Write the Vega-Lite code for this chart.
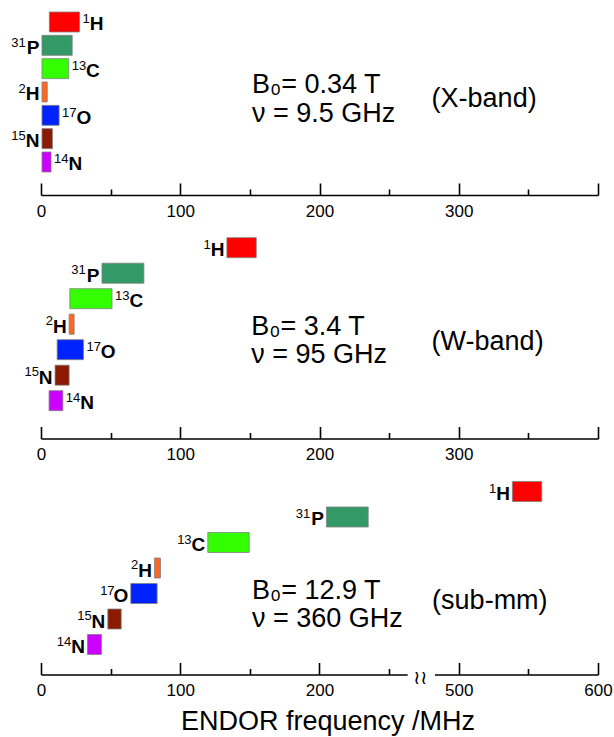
{
  "$schema": "https://vega.github.io/schema/vega-lite/v6.json",
  "background": "white",
  "padding": {"left": 11, "top": 10, "right": 2, "bottom": 4},
  "bounds": "flush",
  "spacing": 40,
  "config": {
    "view": {"stroke": null},
    "text": {"font": "Liberation Sans", "color": "black"},
    "axis": {
      "grid": false,
      "domainColor": "black",
      "domainWidth": 1.6,
      "tickColor": "black",
      "tickWidth": 1.6,
      "labelColor": "black",
      "labelFlush": false,
      "labelOverlap": false,
      "labelFont": "Liberation Sans",
      "labelFontSize": 17,
      "labelBaseline": "top",
      "titleFont": "Liberation Sans",
      "titleFontSize": 27,
      "titleFontWeight": "normal",
      "titleColor": "black"
    }
  },
  "datasets": {
    "nuclei": [
      {"band": "X", "nuc": "1H", "mass": "1", "el": "H", "lo": 6.0, "hi": 27.7},
      {"band": "X", "nuc": "31P", "mass": "31", "el": "P", "lo": 0.7, "hi": 22.4},
      {"band": "X", "nuc": "13C", "mass": "13", "el": "C", "lo": 0.7, "hi": 19.9},
      {"band": "X", "nuc": "2H", "mass": "2", "el": "H", "lo": 0.7, "hi": 4.5},
      {"band": "X", "nuc": "17O", "mass": "17", "el": "O", "lo": 0.7, "hi": 13.0},
      {"band": "X", "nuc": "15N", "mass": "15", "el": "N", "lo": 0.7, "hi": 8.2},
      {"band": "X", "nuc": "14N", "mass": "14", "el": "N", "lo": 0.7, "hi": 7.2},
      {"band": "W", "nuc": "1H", "mass": "1", "el": "H", "lo": 133.5, "hi": 154.6},
      {"band": "W", "nuc": "31P", "mass": "31", "el": "P", "lo": 43.8, "hi": 73.9},
      {"band": "W", "nuc": "13C", "mass": "13", "el": "C", "lo": 20.7, "hi": 51.0},
      {"band": "W", "nuc": "2H", "mass": "2", "el": "H", "lo": 20.2, "hi": 23.8},
      {"band": "W", "nuc": "17O", "mass": "17", "el": "O", "lo": 11.6, "hi": 30.5},
      {"band": "W", "nuc": "15N", "mass": "15", "el": "N", "lo": 10.1, "hi": 20.2},
      {"band": "W", "nuc": "14N", "mass": "14", "el": "N", "lo": 5.8, "hi": 15.7},
      {"band": "S", "nuc": "1H", "mass": "1", "el": "H", "lo": 538.5, "hi": 559.6},
      {"band": "S", "nuc": "31P", "mass": "31", "el": "P", "lo": 205.0, "hi": 235.0},
      {"band": "S", "nuc": "13C", "mass": "13", "el": "C", "lo": 119.8, "hi": 149.5},
      {"band": "S", "nuc": "2H", "mass": "2", "el": "H", "lo": 81.5, "hi": 85.8},
      {"band": "S", "nuc": "17O", "mass": "17", "el": "O", "lo": 64.5, "hi": 83.4},
      {"band": "S", "nuc": "15N", "mass": "15", "el": "N", "lo": 48.0, "hi": 57.6},
      {"band": "S", "nuc": "14N", "mass": "14", "el": "N", "lo": 33.4, "hi": 43.4}
    ]
  },
  "vconcat": [
    {
      "width": 557,
      "height": 185,
      "data": {"name": "nuclei"},
      "transform": [{"filter": "datum.band === 'X'"}],
      "encoding": {
        "y": {"field": "nuc", "type": "nominal", "sort": ["1H","31P","13C","2H","17O","15N","14N"], "axis": null,
              "scale": {"paddingInner": 0.143, "paddingOuter": 0.536, "align": 0.08}}
      },
      "layer": [
        {
          "mark": {"type": "rect", "stroke": "#808080", "strokeWidth": 0.8},
          "encoding": {
            "x": {"field": "lo", "type": "quantitative", "scale": {"domain": [0, 400], "nice": false, "zero": false},
                  "axis": {
                    "title": null,
                    "values": [0,50,100,150,200,250,300,350,400],
                    "tickSize": {"condition": {"test": "datum.value % 100 === 0", "value": -12}, "value": -6},
                    "labelExpr": "datum.value % 100 === 0 && datum.value < 400 ? datum.label : ''",
                    "labelPadding": 20
                  }},
            "x2": {"field": "hi"},
            "color": {"field": "nuc", "type": "nominal", "legend": null,
                      "scale": {"domain": ["1H","31P","13C","2H","17O","15N","14N"],
                                "range": ["#ff0000","#339966","#33ff00","#ff6622","#0022ff","#8b1a00","#cc00ff"]}}
          }
        },
        {
          "transform": [{"filter": "indexof(['1H','13C','17O','14N'], datum.nuc) >= 0"}],
          "mark": {"type": "text", "align": "left", "baseline": "alphabetic", "dx": 3, "dy": 1.2, "fontSize": 13},
          "encoding": {"x": {"field": "hi", "type": "quantitative"}, "text": {"field": "mass"}}
        },
        {
          "transform": [{"filter": "indexof(['1H','13C','17O','14N'], datum.nuc) >= 0 && length(datum.mass) === 1"}],
          "mark": {"type": "text", "align": "left", "baseline": "alphabetic", "dx": 10.2, "dy": 8.5, "fontSize": 19, "fontWeight": "bold"},
          "encoding": {"x": {"field": "hi", "type": "quantitative"}, "text": {"field": "el"}}
        },
        {
          "transform": [{"filter": "indexof(['1H','13C','17O','14N'], datum.nuc) >= 0 && length(datum.mass) === 2"}],
          "mark": {"type": "text", "align": "left", "baseline": "alphabetic", "dx": 17.4, "dy": 8.5, "fontSize": 19, "fontWeight": "bold"},
          "encoding": {"x": {"field": "hi", "type": "quantitative"}, "text": {"field": "el"}}
        },
        {
          "transform": [{"filter": "indexof(['31P','2H','15N'], datum.nuc) >= 0"}],
          "mark": {"type": "text", "align": "right", "baseline": "alphabetic", "dx": -2.5, "dy": 8.5, "fontSize": 19, "fontWeight": "bold"},
          "encoding": {"x": {"field": "lo", "type": "quantitative"}, "text": {"field": "el"}}
        },
        {
          "transform": [{"filter": "indexof(['31P','2H','15N'], datum.nuc) >= 0"}],
          "mark": {"type": "text", "align": "right", "baseline": "alphabetic", "dx": -16.2, "dy": 1.2, "fontSize": 13},
          "encoding": {"x": {"field": "lo", "type": "quantitative"}, "text": {"field": "mass"}}
        },
        {
          "data": {"values": [{}]},
          "mark": {"type": "text", "align": "left", "baseline": "alphabetic", "dy": 1.3, "fontSize": 27,
                   "lineBreak": "\n", "lineHeight": 28.4, "text": "B₀= 0.34 T\nν = 9.5 GHz"},
          "encoding": {"x": {"datum": 151.5}, "y": {"datum": "2H"}}
        },
        {
          "data": {"values": [{}]},
          "mark": {"type": "text", "align": "left", "baseline": "alphabetic", "dy": 15, "fontSize": 27, "text": "(X-band)"},
          "encoding": {"x": {"datum": 280.5}, "y": {"datum": "2H"}}
        }
      ]
    },
    {
      "width": 557,
      "height": 203.5,
      "data": {"name": "nuclei"},
      "transform": [{"filter": "datum.band === 'W'"}],
      "encoding": {
        "y": {"field": "nuc", "type": "nominal", "sort": ["1H","31P","13C","2H","17O","15N","14N"], "axis": null,
              "scale": {"paddingInner": 0.2157, "paddingOuter": 0.598, "align": 0.0885}}
      },
      "layer": [
        {
          "mark": {"type": "rect", "stroke": "#808080", "strokeWidth": 0.8},
          "encoding": {
            "x": {"field": "lo", "type": "quantitative", "scale": {"domain": [0, 400], "nice": false, "zero": false},
                  "axis": {
                    "title": null,
                    "values": [0,50,100,150,200,250,300,350,400],
                    "tickSize": {"condition": {"test": "datum.value % 100 === 0", "value": -12}, "value": -6},
                    "labelExpr": "datum.value % 100 === 0 && datum.value < 400 ? datum.label : ''",
                    "labelPadding": 20
                  }},
            "x2": {"field": "hi"},
            "color": {"field": "nuc", "type": "nominal", "legend": null,
                      "scale": {"domain": ["1H","31P","13C","2H","17O","15N","14N"],
                                "range": ["#ff0000","#339966","#33ff00","#ff6622","#0022ff","#8b1a00","#cc00ff"]}}
          }
        },
        {
          "transform": [{"filter": "indexof(['13C','17O','14N'], datum.nuc) >= 0"}],
          "mark": {"type": "text", "align": "left", "baseline": "alphabetic", "dx": 3, "dy": 1.2, "fontSize": 13},
          "encoding": {"x": {"field": "hi", "type": "quantitative"}, "text": {"field": "mass"}}
        },
        {
          "transform": [{"filter": "indexof(['13C','17O','14N'], datum.nuc) >= 0"}],
          "mark": {"type": "text", "align": "left", "baseline": "alphabetic", "dx": 17.4, "dy": 8.5, "fontSize": 19, "fontWeight": "bold"},
          "encoding": {"x": {"field": "hi", "type": "quantitative"}, "text": {"field": "el"}}
        },
        {
          "transform": [{"filter": "indexof(['1H','31P','2H','15N'], datum.nuc) >= 0"}],
          "mark": {"type": "text", "align": "right", "baseline": "alphabetic", "dx": -2.5, "dy": 8.5, "fontSize": 19, "fontWeight": "bold"},
          "encoding": {"x": {"field": "lo", "type": "quantitative"}, "text": {"field": "el"}}
        },
        {
          "transform": [{"filter": "indexof(['1H','31P','2H','15N'], datum.nuc) >= 0"}],
          "mark": {"type": "text", "align": "right", "baseline": "alphabetic", "dx": -16.2, "dy": 1.2, "fontSize": 13},
          "encoding": {"x": {"field": "lo", "type": "quantitative"}, "text": {"field": "mass"}}
        },
        {
          "data": {"values": [{}]},
          "mark": {"type": "text", "align": "left", "baseline": "alphabetic", "dy": 10.8, "fontSize": 27,
                   "lineBreak": "\n", "lineHeight": 28.4, "text": "B₀= 3.4 T\nν = 95 GHz"},
          "encoding": {"x": {"datum": 151.0}, "y": {"datum": "2H"}}
        },
        {
          "data": {"values": [{}]},
          "mark": {"type": "text", "align": "left", "baseline": "alphabetic", "dy": 25.8, "fontSize": 27, "text": "(W-band)"},
          "encoding": {"x": {"datum": 280.5}, "y": {"datum": "2H"}}
        }
      ]
    },
    {
      "width": 557,
      "height": 195.5,
      "data": {"name": "nuclei"},
      "transform": [{"filter": "datum.band === 'S'"}],
      "encoding": {
        "y": {"field": "nuc", "type": "nominal", "sort": ["1H","31P","13C","2H","17O","15N","14N"], "axis": null,
              "scale": {"paddingInner": 0.2157, "paddingOuter": 0.441, "align": 0.111}}
      },
      "layer": [
        {
          "mark": {"type": "rect", "stroke": "#808080", "strokeWidth": 0.8},
          "encoding": {
            "x": {"field": "lo", "type": "quantitative",
                  "scale": {"domain": [0, 262, 482, 600], "range": [0, 364.8, 392.7, 557], "nice": false, "zero": false},
                  "axis": {
                    "title": "ENDOR frequency /MHz",
                    "titlePadding": 4,
                    "titleX": 286.5,
                    "values": [0,50,100,150,200,250,372,500,550,600],
                    "domainDash": [366.2, 27.3, 300],
                    "tickSize": {"condition": {"test": "indexof([0,100,200,500,600], datum.value) >= 0", "value": -12}, "value": -6},
                    "tickOpacity": {"condition": {"test": "datum.value === 372", "value": 0}, "value": 1},
                    "labelExpr": "indexof([0,100,200,500,600], datum.value) >= 0 ? datum.label : (datum.value === 372 ? '≀≀' : '')",
                    "labelFont": {"condition": {"test": "datum.value === 372", "value": "DejaVu Sans"}, "value": "Liberation Sans"},
                    "labelFontSize": {"condition": {"test": "datum.value === 372", "value": 19}, "value": 17},
                    "labelBaseline": {"condition": {"test": "datum.value === 372", "value": "middle"}, "value": "top"},
                    "labelPadding": {"condition": {"test": "datum.value === 372", "value": 9}, "value": 20}
                  }},
            "x2": {"field": "hi"},
            "color": {"field": "nuc", "type": "nominal", "legend": null,
                      "scale": {"domain": ["1H","31P","13C","2H","17O","15N","14N"],
                                "range": ["#ff0000","#339966","#33ff00","#ff6622","#0022ff","#8b1a00","#cc00ff"]}}
          }
        },
        {
          "mark": {"type": "text", "align": "right", "baseline": "alphabetic", "dx": -2.5, "dy": 8.5, "fontSize": 19, "fontWeight": "bold"},
          "encoding": {"x": {"field": "lo", "type": "quantitative"}, "text": {"field": "el"}}
        },
        {
          "mark": {"type": "text", "align": "right", "baseline": "alphabetic", "dx": -16.2, "dy": 1.2, "fontSize": 13},
          "encoding": {"x": {"field": "lo", "type": "quantitative"}, "text": {"field": "mass"}}
        },
        {
          "data": {"values": [{}]},
          "mark": {"type": "text", "align": "left", "baseline": "alphabetic", "dy": 5.3, "fontSize": 27,
                   "lineBreak": "\n", "lineHeight": 28.4, "text": "B₀= 12.9 T\nν = 360 GHz"},
          "encoding": {"x": {"datum": 151.5}, "y": {"datum": "17O"}}
        },
        {
          "data": {"values": [{}]},
          "mark": {"type": "text", "align": "left", "baseline": "alphabetic", "dy": 15, "fontSize": 27, "text": "(sub-mm)"},
          "encoding": {"x": {"datum": 469.5}, "y": {"datum": "17O"}}
        }
      ]
    }
  ]
}
